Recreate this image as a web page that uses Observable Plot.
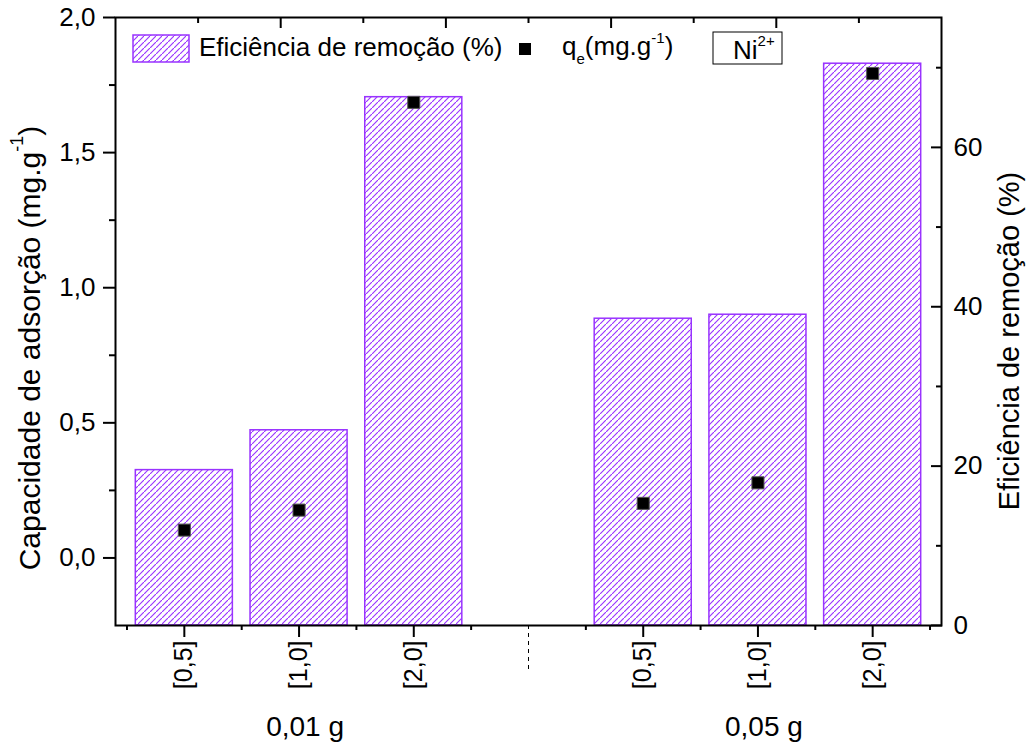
<!DOCTYPE html>
<html><head><meta charset="utf-8">
<script src="https://cdn.jsdelivr.net/npm/d3@7"></script>
<script src="https://cdn.jsdelivr.net/npm/@observablehq/plot@0.6"></script>
<style>body{margin:0;background:#fff}</style>
</head><body><div id="chart"></div>
<script>
// ---- data ----
const slots = ["[0,5]", "[1,0]", "[2,0]", "", "[0,5]", "[1,0]", "[2,0]"];
const removalEfficiency = [19.5, 24.5, 66.3, null, 38.5, 39.0, 70.5]; // %
const qe = [0.103, 0.177, 1.686, null, 0.202, 0.278, 1.793];           // mg/g
const groups = ["0,01 g", "0,05 g"];
const groupSlots = [[0, 1, 2], [4, 5, 6]];
const leftTicks = [0, 0.5, 1.0, 1.5, 2.0];
const leftMinor = [0.25, 0.75, 1.25, 1.75];
const rightTicks = [0, 20, 40, 60];
const rightMinor = [10, 30, 50, 70];
const topTicksLong = [0.84, 2.28, 3.72, 5.16];
const topTicksShort = [0.12, 1.56, 3.0, 4.44, 5.88];

const yLeft = [-0.25, 2.0];
const yRight = [0, 76.3];
const toLeft = p => yLeft[0] + (p - yRight[0]) * (yLeft[1] - yLeft[0]) / (yRight[1] - yRight[0]);
const toRight = v => yRight[0] + (v - yLeft[0]) * (yRight[1] - yRight[0]) / (yLeft[1] - yLeft[0]);
const comma = d => d.toFixed(1).replace(".", ",");

const data = slots.map((s, i) => ({i, slot: s, pct: removalEfficiency[i], qe: qe[i]})).filter(d => d.pct != null);
const violet = "#9933ff";
const font = "'Liberation Sans', Arial, sans-serif";

const overlay = (index, scales, values, dim) => {
  const g = d3.create("svg:g").attr("font-family", font).attr("fill", "black").attr("text-anchor", "start");
  const L = dim.marginLeft, T = dim.marginTop;
  // legend: hatched box
  g.append("rect").attr("x", L + 18).attr("y", T + 18).attr("width", 56).attr("height", 27)
    .attr("fill", "url(#hatchv)").attr("stroke", violet).attr("stroke-width", 1.5);
  g.append("text").attr("x", L + 84).attr("y", T + 39).attr("font-size", 26).text("Eficiência de remoção (%)");
  // legend: square marker
  g.append("rect").attr("x", L + 404).attr("y", T + 26).attr("width", 12).attr("height", 12).attr("fill", "black");
  const t = g.append("text").attr("x", L + 447).attr("y", T + 38).attr("font-size", 26);
  t.append("tspan").text("q");
  t.append("tspan").attr("font-size", 15).attr("dy", 9).text("e");
  t.append("tspan").attr("dy", -9).text("(mg.g");
  t.append("tspan").attr("font-size", 15).attr("dy", -12).text("-1");
  t.append("tspan").attr("dy", 12).text(")");
  // Ni2+ box
  g.append("rect").attr("x", L + 598).attr("y", T + 15).attr("width", 69).attr("height", 32)
    .attr("fill", "white").attr("stroke", "black").attr("stroke-width", 1);
  const n = g.append("text").attr("x", L + 618).attr("y", T + 42).attr("font-size", 26);
  n.append("tspan").text("Ni");
  n.append("tspan").attr("font-size", 15).attr("dy", -13).text("2+");
  // axis titles
  const lt = g.append("text").attr("transform", `translate(29,348) rotate(-90)`)
    .attr("text-anchor", "middle").attr("dominant-baseline", "central").attr("font-size", 30);
  lt.append("tspan").text("Capacidade de adsorção (mg.g");
  lt.append("tspan").attr("font-size", 18).attr("dy", -12).text("-1");
  lt.append("tspan").attr("dy", 12).text(")");
  g.append("text").attr("transform", `translate(1009,341) rotate(-90)`)
    .attr("text-anchor", "middle").attr("dominant-baseline", "central").attr("font-size", 29)
    .text("Eficiência de remoção (%)");
  return g.node();
};

const noText = () => "";
const chart = Plot.plot({
  width: 1031, height: 749,
  marginTop: 17, marginBottom: 124, marginLeft: 115, marginRight: 90,
  x: {type: "linear", domain: [-0.6, 6.6]},
  y: {domain: yLeft},
  style: {fontFamily: font, fontSize: "26px", color: "black", background: "white"},
  marks: [
    Plot.rect(data, {x1: d => d.i - 0.423, x2: d => d.i + 0.423, y1: yLeft[0], y2: d => toLeft(d.pct),
      fill: "url(#hatchv)", stroke: violet, strokeWidth: 1.5}),
    Plot.dot(data, {x: "i", y: "qe", symbol: "square", r: 6.8, fill: "black", stroke: "#555", strokeWidth: 1}),
    // left axis
    Plot.axisY(leftTicks, {anchor: "left", tickSize: 12, tickPadding: 8, tickFormat: comma, fontSize: 26, label: null, strokeWidth: 2}),
    Plot.axisY(leftMinor, {anchor: "left", tickSize: 6, tickFormat: noText, label: null, strokeWidth: 2}),
    // right axis (inward ticks)
    Plot.axisY(rightTicks.map(toLeft), {anchor: "right", tickSize: 11, dx: -11, tickFormat: noText, label: null, strokeWidth: 2}),
    Plot.axisY(rightMinor.map(toLeft), {anchor: "right", tickSize: 6, dx: -6, tickFormat: noText, label: null, strokeWidth: 2}),
    Plot.axisY(rightTicks.map(toLeft), {anchor: "right", tickSize: 0, tickPadding: 12,
      tickFormat: d => String(Math.round(toRight(d))), fontSize: 26, label: null}),
    // top axis (inward ticks)
    Plot.axisX(topTicksLong, {anchor: "top", tickSize: 10, dy: 10, tickFormat: noText, label: null, strokeWidth: 2}),
    Plot.axisX(topTicksShort, {anchor: "top", tickSize: 5, dy: 5, tickFormat: noText, label: null, strokeWidth: 2}),
    // bottom axis
    Plot.axisX(data.map(d => d.i), {anchor: "bottom", tickSize: 12, tickPadding: 3, tickRotate: -90,
      tickFormat: i => slots[i], fontSize: 25, label: null, strokeWidth: 2}),
    Plot.axisX(d3.range(-0.5, 7, 1), {anchor: "bottom", tickSize: 5, tickFormat: noText, label: null, strokeWidth: 2}),
    Plot.axisX([3], {anchor: "bottom", tickSize: 45, tickFormat: noText, label: null, strokeWidth: 1, strokeDasharray: "4,4"}),
    Plot.text(groups.map((g, k) => ({label: g, x: d3.mean(groupSlots[k])})),
      {x: "x", text: "label", frameAnchor: "bottom", dy: 110, dx: 6, fontSize: 28}),
    Plot.frame({stroke: "black", strokeWidth: 2}),
    overlay
  ]
});
// hatch pattern (filled diagonal bands, no stroke) placed at the root of the SVG
const SVGNS = "http://www.w3.org/2000/svg";
const defs = document.createElementNS(SVGNS, "defs");
const pat = document.createElementNS(SVGNS, "pattern");
pat.setAttribute("id", "hatchv");
pat.setAttribute("patternUnits", "userSpaceOnUse");
pat.setAttribute("width", "6");
pat.setAttribute("height", "6");
const bg = document.createElementNS(SVGNS, "rect");
bg.setAttribute("width", "6"); bg.setAttribute("height", "6");
bg.setAttribute("fill", "#ffffff"); bg.setAttribute("stroke", "none");
pat.appendChild(bg);
const band = document.createElementNS(SVGNS, "polygon");
band.setAttribute("points", "0,5.2 5.2,0 6,0 6,0.8 0.8,6 0,6");
band.setAttribute("fill", violet); band.setAttribute("stroke", "none");
pat.appendChild(band);
defs.appendChild(pat);
chart.insertBefore(defs, chart.firstChild);
document.getElementById("chart").append(chart);
</script>
</body></html>
